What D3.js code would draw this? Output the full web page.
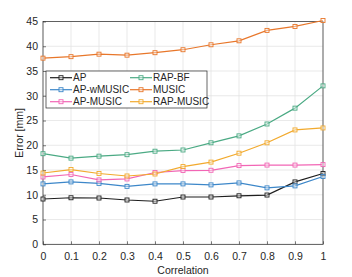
<!DOCTYPE html>
<html lang="en">
  <head>
    <meta charset="UTF-8" />
    <title>Error vs Correlation</title>
    <script src="https://d3js.org/d3.v7.min.js"></script>
    <style>
      body { margin: 0; background: #fff; }
      text { font-family: "Liberation Sans", Arial, sans-serif; }
    </style>
  </head>
  <body>
    <svg width="352" height="277"></svg>

    <script>
      // correlation values on the x axis
      var correlation = [0, 0.1, 0.2, 0.3, 0.4, 0.5, 0.6, 0.7, 0.8, 0.9, 1];

      var seriesNames = ["AP", "AP-wMUSIC", "AP-MUSIC", "RAP-BF", "MUSIC", "RAP-MUSIC"];
      var seriesColors = ["#1f1f1f", "#3d87c9", "#f266b5", "#4baa84", "#e8772b", "#f2aa2e"];

      // error [mm]
      var ap = [9.15, 9.4, 9.35, 8.95, 8.7, 9.55, 9.55, 9.8, 9.95, 12.6, 14.3];
      var apWMusic = [12.2, 12.6, 12.3, 11.7, 12.2, 12.2, 12.0, 12.4, 11.4, 11.8, 13.7];
      var apMusic = [13.6, 14.1, 13.0, 13.2, 14.5, 14.9, 14.95, 15.9, 16.0, 16.0, 16.1];
      var rapBf = [18.3, 17.4, 17.8, 18.1, 18.8, 19.05, 20.5, 21.9, 24.3, 27.5, 32.0];
      var music = [37.6, 37.9, 38.4, 38.2, 38.7, 39.3, 40.3, 41.1, 43.2, 44.0, 45.2];
      var rapMusic = [14.4, 15.1, 14.3, 13.8, 14.2, 15.7, 16.6, 18.4, 20.5, 23.1, 23.5];

      var allSeries = [ap, apWMusic, apMusic, rapBf, music, rapMusic];

      var xTicks = [0, 0.1, 0.2, 0.3, 0.4, 0.5, 0.6, 0.7, 0.8, 0.9, 1];
      var yTicks = [0, 5, 10, 15, 20, 25, 30, 35, 40, 45];

      var svg = d3.select("svg");
      var pl = 43, pr = 323, pt = 21.5, pb = 244.3;

      var x = d3.scaleLinear().domain([0, 1]).range([pl, pr]);
      var y = d3.scaleLinear().domain([0, 45]).range([pb, pt]);

      // grid
      svg.append("g")
        .selectAll("line")
        .data(xTicks)
        .enter()
        .append("line")
        .attr("x1", d => x(d)).attr("x2", d => x(d))
        .attr("y1", pt).attr("y2", pb)
        .attr("stroke", "#e3e3e3").attr("stroke-width", 0.8);
      svg.append("g")
        .selectAll("line")
        .data(yTicks)
        .enter()
        .append("line")
        .attr("x1", pl).attr("x2", pr)
        .attr("y1", d => y(d)).attr("y2", d => y(d))
        .attr("stroke", "#e3e3e3").attr("stroke-width", 0.8);

      // axes (ticks inward)
      var xAxis = d3.axisBottom(x).tickValues(xTicks).tickSize(-3).tickPadding(8)
        .tickFormat(d => d === 0 ? "0" : d === 1 ? "1" : d3.format(".1f")(d));
      var yAxis = d3.axisLeft(y).tickValues(yTicks).tickSize(-3).tickPadding(5);

      var gx = svg.append("g").attr("transform", "translate(0," + pb + ")").call(xAxis);
      var gy = svg.append("g").attr("transform", "translate(" + pl + ",0)").call(yAxis);
      [gx, gy].forEach(function (g) {
        g.select(".domain").remove();
        g.selectAll("line").attr("stroke", "#262626").attr("stroke-width", 0.6);
        g.selectAll("text").attr("font-size", 10.5).attr("fill", "#262626")
          .attr("font-family", "Liberation Sans, Arial, sans-serif");
      });

      // box
      svg.append("rect")
        .attr("x", pl).attr("y", pt)
        .attr("width", pr - pl).attr("height", pb - pt)
        .attr("fill", "none").attr("stroke", "#262626").attr("stroke-width", 0.7);

      // lines
      var line = d3.line()
        .x((d, i) => x(correlation[i]))
        .y(d => y(d));

      svg.append("clipPath").attr("id", "clip")
        .append("rect").attr("x", pl - 4).attr("y", pt - 4)
        .attr("width", pr - pl + 8).attr("height", pb - pt + 8);

      var plot = svg.append("g").attr("clip-path", "url(#clip)");
      allSeries.forEach(function (vals, s) {
        plot.append("path")
          .attr("d", line(vals))
          .attr("fill", "none")
          .attr("stroke", seriesColors[s])
          .attr("stroke-width", 1.2);
        plot.append("g").selectAll("rect")
          .data(vals)
          .enter()
          .append("rect")
          .attr("x", (d, i) => x(correlation[i]) - 2)
          .attr("y", d => y(d) - 2)
          .attr("width", 4).attr("height", 4)
          .attr("fill", "#fff").attr("fill-opacity", 0.4)
          .attr("stroke", seriesColors[s]).attr("stroke-width", 0.9);
      });

      // legend
      var legend = svg.append("g");
      legend.append("rect")
        .attr("x", 46).attr("y", 71).attr("width", 161).attr("height", 37)
        .attr("fill", "#fff").attr("stroke", "#262626").attr("stroke-width", 0.7);
      seriesNames.forEach(function (name, s) {
        var col = Math.floor(s / 3), row = s % 3;
        var lx = col === 0 ? 50 : 130;
        var ly = 77.7 + row * 12;
        legend.append("line")
          .attr("x1", lx).attr("x2", lx + 22)
          .attr("y1", ly).attr("y2", ly)
          .attr("stroke", seriesColors[s]).attr("stroke-width", 1.2);
        legend.append("rect")
          .attr("x", lx + 11 - 2).attr("y", ly - 2)
          .attr("width", 4).attr("height", 4)
          .attr("fill", "#fff").attr("fill-opacity", 0.4)
          .attr("stroke", seriesColors[s]).attr("stroke-width", 0.9);
        legend.append("text")
          .attr("x", lx + 23).attr("y", ly + 3.6)
          .attr("font-size", 10).attr("fill", "#262626")
          .text(name);
      });

      // axis labels
      svg.append("text")
        .attr("x", (pl + pr) / 2).attr("y", 274)
        .attr("text-anchor", "middle").attr("font-size", 10.5).attr("fill", "#262626")
        .text("Correlation");
      svg.append("text")
        .attr("transform", "translate(23," + (pt + pb) / 2 + ") rotate(-90)")
        .attr("text-anchor", "middle").attr("font-size", 10.5).attr("fill", "#262626")
        .text("Error [mm]");
    </script>
  </body>
</html>
